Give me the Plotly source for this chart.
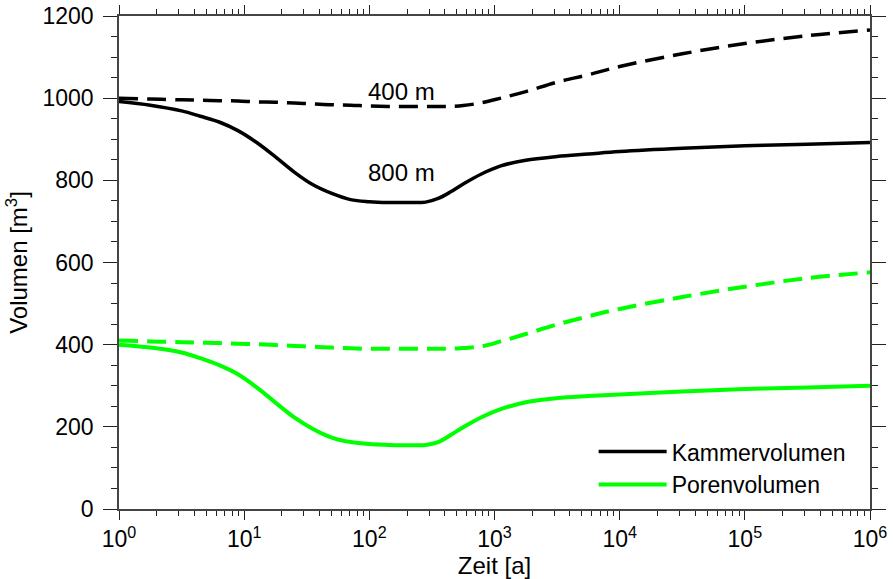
import plotly.graph_objects as go

# time grid [a]
zeit = [1, 1.778, 3.162, 4.467, 6.310, 8.913, 12.59, 17.78, 25.12, 35.48, 50.12,
        70.79, 100, 141.3, 199.5, 281.8, 354.8, 446.7, 562.3, 794.3, 1122, 1778,
        3162, 5623, 10000, 31623, 100000, 316228, 1000000]

kammer_400 = [1000, 998, 996, 995, 994, 993, 991, 990, 988, 986, 984,
              983, 981, 980, 980, 980, 980, 980, 982, 989, 1000, 1016,
              1039, 1057, 1077, 1108, 1133, 1152, 1166]
kammer_800 = [992, 983, 969, 956, 942, 921, 892, 857, 820, 789, 768,
              753, 748, 746, 746, 747, 756, 772, 791, 816, 835, 849,
              858, 864, 870, 878, 884, 888, 892]
poren_400 = [410, 408, 406, 405, 404, 402, 401, 399, 397, 395, 393,
             391, 390, 390, 390, 390, 390, 390, 392, 396, 408, 426,
             449, 469, 487, 516, 541, 562, 576]
poren_800 = [400, 393, 381, 367, 350, 328, 296, 259, 223, 195, 174,
             163, 158, 156, 155, 156, 163, 180, 199, 224, 243, 260,
             270, 275, 279, 286, 292, 296, 300]

x_major = [1, 10, 100, 1000, 10000, 100000, 1000000]
x_major_text = ["10<sup>%d</sup>" % i for i in range(7)]
x_minor = [m * d for d in x_major[:-1] for m in range(2, 10)]

BLACK = "#000000"
GREEN = "#00ff00"
FONT = "Liberation Sans, Arial, Helvetica, sans-serif"
DASH = "19px,9px"
SM = 1.0

fig = go.Figure()
fig.add_trace(go.Scatter(x=zeit, y=kammer_400, mode="lines", showlegend=False,
                         line=dict(color=BLACK, width=3.5, dash=DASH, shape="spline", smoothing=SM)))
fig.add_trace(go.Scatter(x=zeit, y=kammer_800, mode="lines", name="Kammervolumen",
                         line=dict(color=BLACK, width=3.5, shape="spline", smoothing=SM)))
fig.add_trace(go.Scatter(x=zeit, y=poren_400, mode="lines", showlegend=False,
                         line=dict(color=GREEN, width=4, dash=DASH, shape="spline", smoothing=SM)))
fig.add_trace(go.Scatter(x=zeit, y=poren_800, mode="lines", name="Porenvolumen",
                         line=dict(color=GREEN, width=4, shape="spline", smoothing=SM)))

fig.add_annotation(x=2.26, y=1017, xref="x", yref="y", text="400 m", showarrow=False,
                   font=dict(size=24, color=BLACK, family=FONT))
fig.add_annotation(x=2.26, y=820, xref="x", yref="y", text="800 m", showarrow=False,
                   font=dict(size=24, color=BLACK, family=FONT))

fig.update_layout(
    width=893, height=579,
    margin=dict(l=119, r=23, t=16, b=70),
    paper_bgcolor="white", plot_bgcolor="white",
    font=dict(family=FONT, size=23, color=BLACK),
    legend=dict(x=0.632, y=0.16, xanchor="left", yanchor="top",
                bgcolor="rgba(0,0,0,0)", font=dict(size=23), tracegroupgap=0,
                itemwidth=68),
)
fig.update_xaxes(
    type="log", range=[0, 6], showline=True, linecolor="#444", linewidth=1.5,
    mirror="allticks", ticks="outside", ticklen=9, tickwidth=1.2, tickcolor="#222",
    tickmode="array", tickvals=x_major, ticktext=x_major_text, showgrid=False, zeroline=False,
    minor=dict(tickmode="array", tickvals=x_minor, ticks="outside", ticklen=5,
               tickwidth=1.2, tickcolor="#222", showgrid=False),
    title=dict(text="Zeit [a]", font=dict(size=24), standoff=4),
    tickfont=dict(size=23), automargin=False,
)
fig.update_yaxes(
    range=[0, 1200], showline=True, linecolor="#444", linewidth=1.5,
    mirror="allticks", ticks="outside", ticklen=14, tickwidth=1.2, tickcolor="#222",
    tickmode="linear", tick0=0, dtick=200, showgrid=False, zeroline=False,
    minor=dict(tickmode="linear", tick0=0, dtick=50, ticks="outside", ticklen=6,
               tickwidth=1.2, tickcolor="#222", showgrid=False),
    title=dict(text="Volumen [m<sup>3</sup>]", font=dict(size=24), standoff=8),
    tickfont=dict(size=23), automargin=False, ticklabelstandoff=5,
)

fig.write_html("out.html")
